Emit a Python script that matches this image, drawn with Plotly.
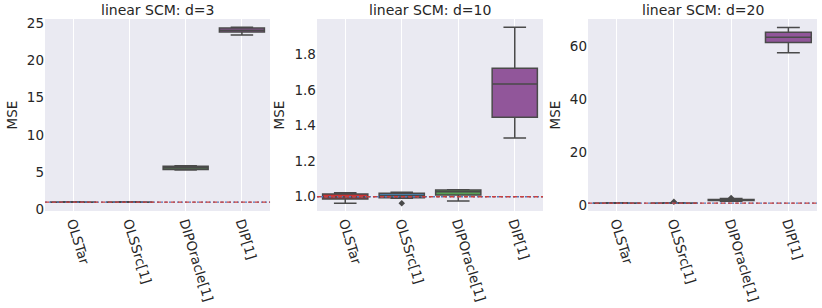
import plotly.graph_objects as go

categories = ["OLSTar", "OLSSrc[1]", "DIPOracle[1]", "DIP[1]"]
titles = ["linear SCM: d=3", "linear SCM: d=10", "linear SCM: d=20"]
colors = ["#cb3335", "#477ca8", "#58a256", "#91569a"]

# per panel: lowerfence, q1, median, q3, upperfence for each category
d3_low = [0.96, 0.96, 5.30, 23.40]
d3_q1 = [0.98, 0.98, 5.38, 23.80]
d3_med = [1.00, 1.00, 5.60, 24.05]
d3_q3 = [1.02, 1.02, 5.80, 24.35]
d3_up = [1.04, 1.04, 5.88, 24.45]

d10_low = [0.963, 0.992, 0.976, 1.330]
d10_q1 = [0.987, 0.995, 1.010, 1.446]
d10_med = [0.998, 1.006, 1.028, 1.633]
d10_q3 = [1.015, 1.019, 1.038, 1.721]
d10_up = [1.022, 1.025, 1.040, 1.952]

d20_low = [0.90, 0.90, 1.70, 57.7]
d20_q1 = [0.95, 0.95, 1.95, 61.5]
d20_med = [1.00, 1.00, 2.10, 63.5]
d20_q3 = [1.05, 1.05, 2.30, 65.4]
d20_up = [1.10, 1.10, 2.75, 67.2]

# outliers: (category, value)
d10_out_cat = ["OLSSrc[1]"]
d10_out_val = [0.963]
d20_out_cat = ["OLSSrc[1]", "DIPOracle[1]"]
d20_out_val = [1.5, 2.9]

yranges = [[-0.2, 25.55], [0.92, 1.998], [-2.0, 70.4]]
dticks = [5, 0.2, 20]
domains = [[0.0, 0.2915], [0.3523, 0.6451], [0.7034, 1.0]]

panels = [
    (d3_low, d3_q1, d3_med, d3_q3, d3_up, [], []),
    (d10_low, d10_q1, d10_med, d10_q3, d10_up, d10_out_cat, d10_out_val),
    (d20_low, d20_q1, d20_med, d20_q3, d20_up, d20_out_cat, d20_out_val),
]

line_col = "#4a4a4a"
fig = go.Figure()
for p, (lo, q1, md, q3, up, oc, ov) in enumerate(panels):
    xa = "x" if p == 0 else f"x{p+1}"
    ya = "y" if p == 0 else f"y{p+1}"
    for i, c in enumerate(categories):
        fig.add_trace(go.Box(
            x=[c], q1=[q1[i]], median=[md[i]], q3=[q3[i]],
            lowerfence=[lo[i]], upperfence=[up[i]],
            fillcolor=colors[i], line=dict(color=line_col, width=1.5),
            width=0.8, whiskerwidth=0.5, boxpoints=False,
            xaxis=xa, yaxis=ya, showlegend=False, hoverinfo="skip"))
    if oc:
        fig.add_trace(go.Scatter(
            x=oc, y=ov, mode="markers",
            marker=dict(symbol="diamond", size=5, color=line_col),
            xaxis=xa, yaxis=ya, showlegend=False, hoverinfo="skip"))
    # reference line at y=1
    fig.add_shape(type="line", xref=f"{xa} domain", yref=ya, x0=0, x1=1, y0=1, y1=1,
                  line=dict(color="#5b74b5", width=1.3, dash="2px,2px"))
    fig.add_shape(type="line", xref=f"{xa} domain", yref=ya, x0=0, x1=1, y0=1, y1=1,
                  line=dict(color="#c8403f", width=1.3, dash="4px,3px"))

layout = dict(
    width=822, height=308,
    margin=dict(l=45, r=5, t=19, b=97, autoexpand=False),
    paper_bgcolor="white", plot_bgcolor="#EAEAF2",
    font=dict(family="DejaVu Sans", size=13, color="#262626"),
    boxmode="overlay",
)
annotations = []
for p in range(3):
    sfx = "" if p == 0 else str(p + 1)
    layout[f"xaxis{sfx}"] = dict(
        domain=domains[p], anchor=f"y{sfx}", type="category",
        categoryorder="array", categoryarray=categories,
        range=[-0.5, 3.5], showgrid=True, gridcolor="white", gridwidth=1,
        tickangle=73, ticks="", zeroline=False, showline=False, automargin=False,
        tickfont=dict(size=13.5, color="#262626"))
    layout[f"yaxis{sfx}"] = dict(
        domain=[0, 1], anchor=f"x{sfx}", range=yranges[p], dtick=dticks[p],
        tick0=0, showgrid=False, zeroline=False, showline=False, ticks="",
        automargin=False,
        tickformat=".1f" if p == 1 else "d",
        tickfont=dict(size=13.5, color="#262626"),
        title=dict(text="MSE", font=dict(size=13.5, color="#262626"), standoff=6))
    annotations.append(dict(
        text=titles[p], xref=f"x{sfx} domain", yref="paper",
        x=0.5, y=1.0, xanchor="center", yanchor="bottom", yshift=-1,
        showarrow=False, font=dict(size=14, color="#262626")))
layout["annotations"] = annotations
fig.update_layout(**layout)
fig.write_html("out.html", config={"displayModeBar": False},
               post_script="document.body.style.margin='0px';document.body.style.overflow='hidden';")
